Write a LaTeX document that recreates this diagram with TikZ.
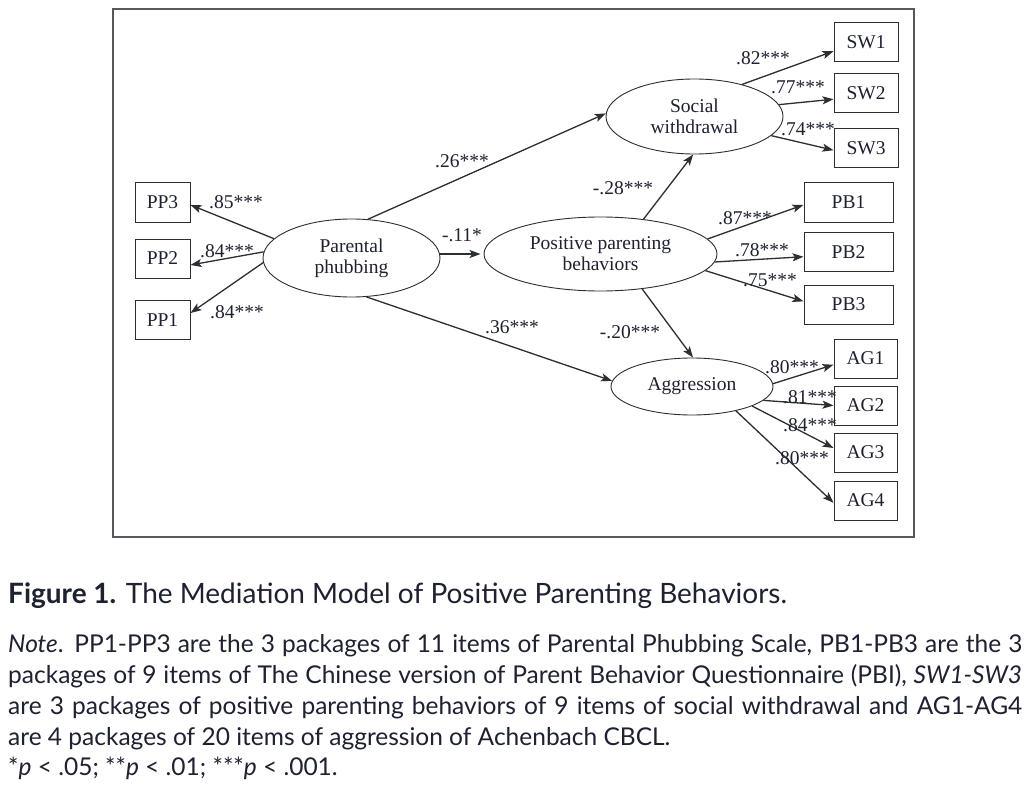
\documentclass[tikz,border=0pt]{standalone}
\usepackage{fontspec}
\setmainfont{Liberation Serif}
\newfontfamily\capfont{Lato}
\usetikzlibrary{shapes.geometric,arrows.meta}
\definecolor{linec}{HTML}{2B2E33}
\definecolor{txt}{HTML}{1E2230}
\definecolor{framec}{HTML}{55585C}
\begin{document}
\begin{tikzpicture}[x=1pt,y=-1pt,
  every node/.style={text=txt},
  dfont/.style={font=\fontsize{19.5}{21}\selectfont},
  latent/.style={ellipse,draw=linec,line width=0.9pt,inner sep=0pt,align=center,dfont},
  obs/.style={rectangle,draw=linec,line width=1pt,inner sep=0pt,dfont},
  arr/.style={draw=linec,line width=1.3pt,-{Stealth[length=11pt,width=8pt,inset=2.5pt]}},
  lab/.style={inner sep=0pt,dfont},
  capl/.style={anchor=base west,inner sep=0pt,font=\capfont\fontsize{24.5}{27}\selectfont}
]
\useasboundingbox (0,0) rectangle (1034,797);
\fill[white] (0,0) rectangle (1034,797);
% frame
\node[draw=framec,line width=1.6pt,minimum width=801pt,minimum height=528pt,inner sep=0pt] (frame) at (513.5,273) {};
% latent variables
\node[latent,minimum width=177pt,minimum height=78pt] (pp) at (351.5,258) {Parental\\phubbing};
\node[latent,minimum width=233pt,minimum height=74pt] (pb) at (600.5,254) {Positive parenting\\behaviors};
\node[latent,minimum width=177pt,minimum height=75pt] (sw) at (694.5,116.5) {Social\\withdrawal};
\node[latent,minimum width=162pt,minimum height=57pt] (ag) at (692,386.5) {Aggression};
% observed
\foreach \n/\y in {PP3/202.5,PP2/258.5,PP1/320}{
  \node[obs,minimum width=55pt,minimum height=39pt] (\n) at (162.5,\y) {\n};}
\foreach \n/\y in {SW1/42.5,SW2/93.5,SW3/148.5}{
  \node[obs,minimum width=64pt,minimum height=39pt] (\n) at (866,\y) {\n};}
\foreach \n/\y in {PB1/202.5,PB2/252,PB3/304.5}{
  \node[obs,minimum width=89pt,minimum height=39pt] (\n) at (848.5,\y) {\n};}
\foreach \n/\y in {AG1/358.5,AG2/405.5,AG3/452.5,AG4/500.5}{
  \node[obs,minimum width=63pt,minimum height=39pt] (\n) at (865.5,\y) {\n};}
% structural paths
\draw[arr] (pp.67.8) -- (sw.178);
\draw[arr] (pp.east |- pb.west) -- ([xshift=-3pt]pb.west);
\draw[arr] (pp.291.7) -- (ag.176);
\draw[arr] (pb.39.5) -- (sw.268);
\draw[arr] (pb.320.5) -- (ag.88);
% loadings
\draw[arr] (pp.166) -- (PP3.355);
\draw[arr] (pp.176) -- (PP2.347);
\draw[arr] (pp.183.3) -- (PP1.14.3);
\draw[arr] (sw.34.6) -- (SW1.195);
\draw[arr] (sw.8.2) -- (SW2.190);
\draw[arr] (sw.-14.8) -- (SW3.183);
\draw[arr] (pb.8) -- (PB1.183.2);
\draw[arr] (pb.-4) -- (PB2.186.4);
\draw[arr] (pb.-9.8) -- (PB3.176.8);
\draw[arr] (ag.2) -- (AG1.191.7);
\draw[arr] (ag.349) -- (AG2.180);
\draw[arr] (ag.342) -- (AG3.172);
\draw[arr] (ag.331) -- (AG4.184.5);
% labels
\node[lab] (l1) at (236,202) {.85***};
\node[lab] (l2) at (227,251) {.84***};
\node[lab] (l3) at (237,312) {.84***};
\node[lab] (l4) at (462,161) {.26***};
\node[lab] (l5) at (462,235) {-.11*};
\node[lab] (l6) at (512,327) {.36***};
\node[lab] (l7) at (623,188) {-.28***};
\node[lab] (l8) at (630,332) {-.20***};
\node[lab] (l9) at (763,58) {.82***};
\node[lab] (l10) at (798,87) {.77***};
\node[lab] (l11) at (808,129) {.74***};
\node[lab] (l12) at (745,218) {.87***};
\node[lab] (l13) at (762,250) {.78***};
\node[lab] (l14) at (770,280) {.75***};
\node[lab] (l15) at (792,367) {.80***};
\node[lab] (l16) at (810,397) {.81***};
\node[lab] (l17) at (810,425) {.84***};
\node[lab] (l18) at (802,458) {.80***};
% caption
\node[anchor=base west,inner sep=0pt,font=\capfont\fontsize{28}{31}\selectfont] (title) at (8,603) {\textbf{Figure 1.} The Mediation Model of Positive Parenting Behaviors.};
\node[capl] (n1) at (8,652) {\makebox[1014pt][s]{\textit{Note}. PP1-PP3 are the 3 packages of 11 items of Parental Phubbing Scale, PB1-PB3 are the 3}};
\node[capl] (n2) at (8,683) {\makebox[1014pt][s]{packages of 9 items of The Chinese version of Parent Behavior Questionnaire (PBI), \textit{SW1-SW3}}};
\node[capl] (n3) at (8,714) {\makebox[1014pt][s]{are 3 packages of positive parenting behaviors of 9 items of social withdrawal and AG1-AG4}};
\node[capl] (n4) at (8,745) {are 4 packages of 20 items of aggression of Achenbach CBCL.};
\node[capl] (n5) at (8,775) {*\textit{p} < .05; **\textit{p} < .01; ***\textit{p} < .001.};
\end{tikzpicture}
\end{document}
